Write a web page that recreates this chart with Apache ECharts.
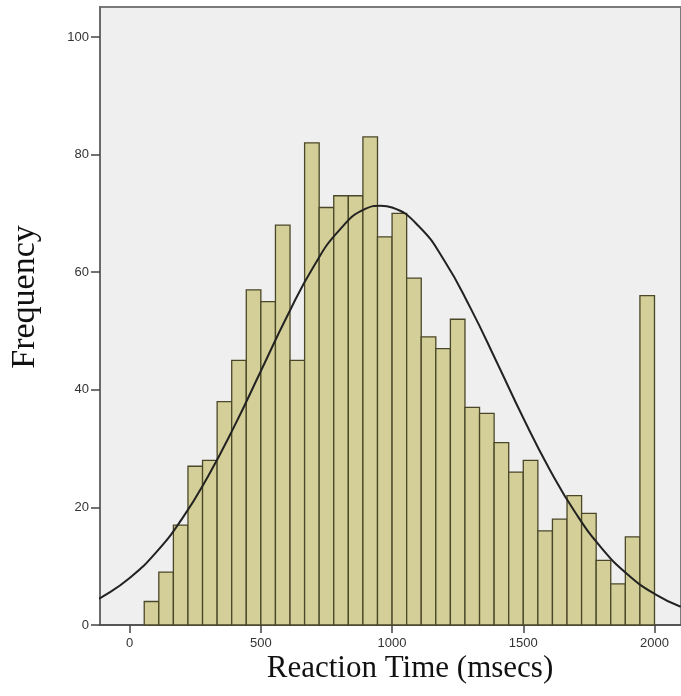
<!DOCTYPE html>
<html>
<head>
<meta charset="utf-8">
<script src="https://cdn.jsdelivr.net/npm/echarts@6/dist/echarts.min.js"></script>
<style>
html,body{margin:0;padding:0;background:#fff;}
#chart{width:681px;height:696px;}
</style>
</head>
<body>
<div id="chart"></div>
<script>
// Histogram: bin width 500/9 msecs, first bin starts at one bin width
var binWidth = 500 / 9;
var firstBinIndex = 1;
var counts = [4, 9, 17, 27, 28, 38, 45, 57, 55, 68, 45, 82, 71, 73, 73, 83, 66, 70, 59, 49,
              47, 52, 37, 36, 31, 26, 28, 16, 18, 22, 19, 11, 7, 15, 56];
// Normal curve points
var curveX = [-150, -100, 0, 100, 200, 300, 400, 500, 600, 700, 800, 900, 957, 1000, 1100,
              1200, 1300, 1400, 1500, 1600, 1700, 1800, 1900, 2000, 2100];
var curveY = [3.8, 4.9, 8.0, 12.3, 18.1, 25.4, 33.9, 43.2, 52.5, 60.9, 67.2, 70.8, 71.3, 71.0, 67.9,
              61.9, 53.8, 44.6, 35.2, 26.5, 19.0, 13.0, 8.5, 5.3, 3.1];
var xTicks = [0, 500, 1000, 1500, 2000];
var yTicks = [0, 20, 40, 60, 80, 100];

var histData = counts.map(function (c, i) {
  var x0 = (i + firstBinIndex) * binWidth;
  return [x0, x0 + binWidth, c];
});
var lineData = curveX.map(function (x, i) { return [x, curveY[i]]; });

var chart = echarts.init(document.getElementById('chart'), null, {renderer: 'canvas'});
var labelFont = 'Liberation Sans';
chart.setOption({
  backgroundColor: '#ffffff',
  animation: false,
  grid: {
    left: 100, right: -6, top: 7, bottom: 71,
    show: true, backgroundColor: '#efefef',
    borderColor: '#7a7a7a', borderWidth: 2
  },
  xAxis: {
    type: 'value', min: -113, max: 2101,
    splitLine: {show: false},
    axisLine: {show: true, onZero: false, lineStyle: {color: '#555', width: 2}},
    axisTick: {show: true, length: 8, customValues: xTicks, lineStyle: {color: '#444', width: 1.5}},
    axisLabel: {customValues: xTicks, color: '#333', fontSize: 13, fontFamily: labelFont, margin: 12,
                formatter: function (v) { return String(v); }}
  },
  yAxis: {
    type: 'value', min: 0, max: 105.1,
    splitLine: {show: false},
    axisLine: {show: true, onZero: false, lineStyle: {color: '#6a6a6a', width: 2}},
    axisTick: {show: true, length: 9, customValues: yTicks, lineStyle: {color: '#444', width: 1.5}},
    axisLabel: {customValues: yTicks, color: '#333', fontSize: 13, fontFamily: labelFont, margin: 11,
                formatter: function (v) { return String(v); }}
  },
  series: [
    {
      type: 'custom',
      data: histData,
      encode: {x: [0, 1], y: 2},
      renderItem: function (params, api) {
        var p0 = api.coord([api.value(0), 0]);
        var p1 = api.coord([api.value(1), api.value(2)]);
        return {
          type: 'rect',
          shape: {x: p0[0], y: p1[1], width: p1[0] - p0[0], height: p0[1] - p1[1]},
          style: {fill: '#d4cf98', stroke: '#4a4728', lineWidth: 1.3}
        };
      }
    },
    {
      type: 'line',
      data: lineData,
      smooth: true,
      showSymbol: false,
      clip: true,
      lineStyle: {color: '#222', width: 2}
    }
  ],
  graphic: [
    {
      type: 'text', x: 25, y: 297, rotation: Math.PI / 2,
      style: {text: 'Frequency', font: '34px "Liberation Serif"', fill: '#111',
              textAlign: 'center', textVerticalAlign: 'middle', align: 'center', verticalAlign: 'middle'}
    },
    {
      type: 'text', x: 410, y: 669,
      style: {text: 'Reaction Time (msecs)', font: '31px "Liberation Serif"', fill: '#111',
              textAlign: 'center', textVerticalAlign: 'middle', align: 'center', verticalAlign: 'middle'}
    }
  ]
});
</script>
</body>
</html>
